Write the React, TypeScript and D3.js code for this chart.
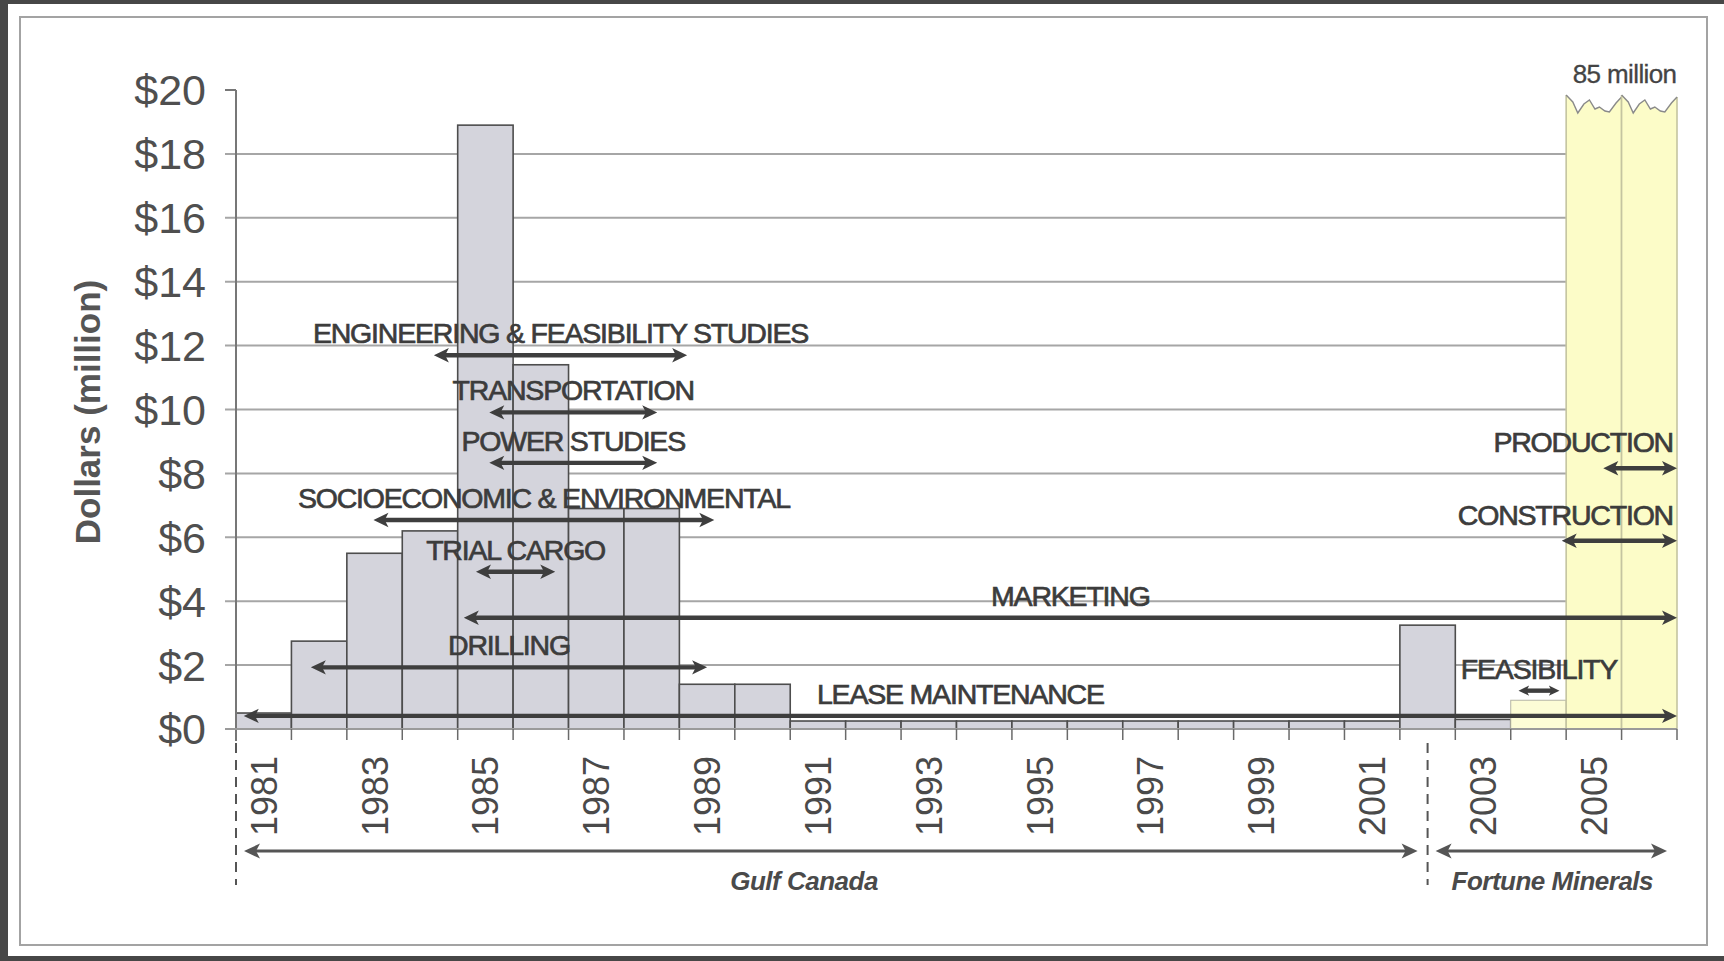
import { useEffect, useRef } from "react";
import * as d3 from "d3";

// spending per year, $ million (2005/2006 run off the chart at 85)
const YEARS = [
  1981, 1982, 1983, 1984, 1985, 1986, 1987, 1988, 1989, 1990, 1991, 1992, 1993,
  1994, 1995, 1996, 1997, 1998, 1999, 2000, 2001, 2002, 2003, 2004, 2005, 2006,
];
const SPENDING = [
  0.5, 2.75, 5.5, 6.2, 18.9, 11.4, 6.9, 6.9, 1.4, 1.4, 0.25, 0.25, 0.25, 0.25,
  0.25, 0.25, 0.25, 0.25, 0.25, 0.25, 0.25, 3.25, 0.3, 0.9, 85, 85,
];
const Y_TICKS = [0, 2, 4, 6, 8, 10, 12, 14, 16, 18, 20];
const YEAR_LABELS = [1981, 1983, 1985, 1987, 1989, 1991, 1993, 1995, 1997, 1999, 2001, 2003, 2005];

// activity arrows: label, start year, end year, $ level
const ACTIVITY_LABELS = [
  "ENGINEERING & FEASIBILITY STUDIES",
  "TRANSPORTATION",
  "POWER STUDIES",
  "SOCIOECONOMIC & ENVIRONMENTAL",
  "TRIAL CARGO",
  "MARKETING",
  "DRILLING",
  "LEASE MAINTENANCE",
  "FEASIBILITY",
  "CONSTRUCTION",
  "PRODUCTION",
];
const ACTIVITY_START = [1984.57, 1985.57, 1985.57, 1983.48, 1985.33, 1985.11, 1982.35, 1981.14, 2004.14, 2004.92, 2005.67];
const ACTIVITY_END = [1989.14, 1988.6, 1988.6, 1989.63, 1986.76, 2007, 1989.5, 2007, 2004.88, 2007, 2007];
const ACTIVITY_LEVEL = [11.7, 9.91, 8.33, 6.54, 4.92, 3.48, 1.93, 0.41, 1.2, 5.89, 8.16];
const RIGHT_ALIGNED = ["CONSTRUCTION", "PRODUCTION"];

// ownership periods
const OWNERS = ["Gulf Canada", "Fortune Minerals"];
const OWNER_START = [1981, 2002.5];
const OWNER_END = [2002.5, 2007];
const OWNER_LABEL_AT = [1991.25, 2004.75];

const FONT = "'Liberation Sans', Arial, Helvetica, sans-serif";

export default function App() {
  const ref = useRef<SVGSVGElement | null>(null);

  useEffect(() => {
    const W = 1724;
    const H = 961;
    const svg = d3.select(ref.current);
    svg.selectAll("*").remove();

    // frame
    svg.append("rect").attr("width", W).attr("height", H).attr("fill", "#474747");
    svg.append("rect").attr("x", 8).attr("y", 4).attr("width", W - 8).attr("height", 952).attr("fill", "#fff");
    svg
      .append("rect")
      .attr("x", 20)
      .attr("y", 17)
      .attr("width", 1687)
      .attr("height", 928)
      .attr("fill", "none")
      .attr("stroke", "#a3a3a3")
      .attr("stroke-width", 2);

    const left = 236;
    const right = 1677;
    const top = 90;
    const bottom = 729;

    const band = d3.scaleBand<number>().domain(YEARS).range([left, right]).padding(0);
    const t = d3.scaleLinear().domain([1981, 2007]).range([left, right]);
    const y = d3.scaleLinear().domain([0, 20]).range([bottom, top]);
    const yMax = y.domain()[1];

    const g = svg.append("g");

    /* gridlines */
    g.selectAll(".grid")
      .data(Y_TICKS.filter((d) => d > 0 && d < yMax))
      .enter()
      .append("line")
      .attr("x1", left - 11)
      .attr("x2", right)
      .attr("y1", (d) => y(d))
      .attr("y2", (d) => y(d))
      .attr("stroke", "#a6a6a6")
      .attr("stroke-width", 2);

    /* bars */
    const bars = YEARS.map((yr, i) => ({ year: yr, value: SPENDING[i] }));
    const isFortune = (yr: number) => yr >= 2004;

    g.selectAll(".bar")
      .data(bars.filter((d) => d.value <= yMax))
      .enter()
      .append("rect")
      .attr("x", (d) => band(d.year)!)
      .attr("width", band.bandwidth())
      .attr("y", (d) => y(d.value))
      .attr("height", (d) => bottom - y(d.value))
      .attr("fill", (d) => (isFortune(d.year) ? "#fcfcd6" : "#d4d4dc"))
      .attr("stroke", (d) => (isFortune(d.year) ? "#b5b5a5" : "#4d4d4d"))
      .attr("stroke-width", (d) => (isFortune(d.year) ? 1 : 1.6));

    // broken (off-scale) bars with a torn top
    const tearX = [0, 0.12, 0.21, 0.32, 0.42, 0.52, 0.6, 0.7, 0.78, 0.9, 1];
    const tearY = [5, 12, 23, 14, 10, 19, 17, 21, 22, 13, 7];
    const broken = bars.filter((d) => d.value > yMax);
    broken.forEach((d) => {
      const x0 = band(d.year)!;
      const w = band.bandwidth();
      const pts = tearX.map((f, k) => [x0 + f * w, y(yMax) + tearY[k]] as [number, number]);
      const line = d3.line();
      const outline = [[x0, bottom] as [number, number], ...pts, [x0 + w, bottom] as [number, number]];
      g.append("path").attr("d", line(outline) + "Z").attr("fill", "#fcfcc8");
      g.append("line")
        .attr("x1", x0)
        .attr("x2", x0)
        .attr("y1", pts[0][1])
        .attr("y2", bottom)
        .attr("stroke", "#c4c4a0")
        .attr("stroke-width", 1.6);
      g.append("line")
        .attr("x1", x0 + w)
        .attr("x2", x0 + w)
        .attr("y1", pts[pts.length - 1][1])
        .attr("y2", bottom)
        .attr("stroke", "#c4c4a0")
        .attr("stroke-width", 1.6);
      g.append("path")
        .attr("d", line(pts))
        .attr("fill", "none")
        .attr("stroke", "#8a8a8a")
        .attr("stroke-width", 1.4);
    });

    svg
      .append("text")
      .attr("x", t(2006) + 3)
      .attr("y", 83)
      .attr("text-anchor", "middle")
      .attr("font-family", FONT)
      .attr("font-size", 26)
      .attr("letter-spacing", -0.6)
      .attr("fill", "#444")
      .attr("stroke", "#444")
      .attr("stroke-width", 0.3)
      .text("85 million");

    /* y axis */
    g.append("line")
      .attr("x1", left)
      .attr("x2", left)
      .attr("y1", y(yMax))
      .attr("y2", bottom + 12)
      .attr("stroke", "#777")
      .attr("stroke-width", 2);
    g.append("line")
      .attr("x1", left - 11)
      .attr("x2", left)
      .attr("y1", y(yMax))
      .attr("y2", y(yMax))
      .attr("stroke", "#777")
      .attr("stroke-width", 2);
    g.selectAll(".ylab")
      .data(Y_TICKS)
      .enter()
      .append("text")
      .attr("x", 206)
      .attr("y", (d) => y(d))
      .attr("dy", "0.36em")
      .attr("text-anchor", "end")
      .attr("font-family", FONT)
      .attr("font-size", 43)
      .attr("fill", "#4f4f4f")
      .text((d) => `$${d}`);

    svg
      .append("text")
      .attr("transform", `translate(100, 412) rotate(-90)`)
      .attr("text-anchor", "middle")
      .attr("font-family", FONT)
      .attr("font-weight", "bold")
      .attr("font-size", 35)
      .attr("fill", "#555")
      .text("Dollars (million)");

    /* x axis */
    g.append("line")
      .attr("x1", left - 11)
      .attr("x2", right)
      .attr("y1", bottom)
      .attr("y2", bottom)
      .attr("stroke", "#9a9a9a")
      .attr("stroke-width", 2);
    g.selectAll(".xtick")
      .data(YEARS.slice(1).concat([2007]))
      .enter()
      .append("line")
      .attr("x1", (d) => t(d))
      .attr("x2", (d) => t(d))
      .attr("y1", bottom)
      .attr("y2", bottom + 11)
      .attr("stroke", "#6a6a6a")
      .attr("stroke-width", 1.5);
    g.selectAll(".xlab")
      .data(YEAR_LABELS)
      .enter()
      .append("text")
      .attr(
        "transform",
        (d) => `translate(${band(d)! + band.bandwidth() / 2}, ${bottom + 27}) rotate(-90)`
      )
      .attr("dy", "0.36em")
      .attr("text-anchor", "end")
      .attr("font-family", FONT)
      .attr("font-size", 36)
      .attr("fill", "#4a4a4a")
      .text((d) => d);

    /* arrows */
    const arrow = (
      x1: number,
      x2: number,
      yy: number,
      color: string,
      width: number,
      head: number,
      half: number
    ) => {
      g.append("line")
        .attr("x1", x1 + head * 0.6)
        .attr("x2", x2 - head * 0.6)
        .attr("y1", yy)
        .attr("y2", yy)
        .attr("stroke", color)
        .attr("stroke-width", width);
      const p = d3.path();
      p.moveTo(x1, yy);
      p.lineTo(x1 + head, yy - half);
      p.lineTo(x1 + head * 0.75, yy);
      p.lineTo(x1 + head, yy + half);
      p.closePath();
      p.moveTo(x2, yy);
      p.lineTo(x2 - head, yy - half);
      p.lineTo(x2 - head * 0.75, yy);
      p.lineTo(x2 - head, yy + half);
      p.closePath();
      g.append("path").attr("d", p.toString()).attr("fill", color);
    };

    ACTIVITY_LABELS.forEach((label, i) => {
      const x1 = t(ACTIVITY_START[i]);
      const x2 = t(ACTIVITY_END[i]);
      const yy = y(ACTIVITY_LEVEL[i]);
      const head = Math.min(15, (x2 - x1) * 0.26);
      arrow(x1, x2, yy, "#3e3e3e", 4.4, head, head * 0.48);
      const right = RIGHT_ALIGNED.includes(label);
      g.append("text")
        .attr("x", right ? x2 - 4 : (x1 + x2) / 2)
        .attr("y", yy - (right ? 16 : 12))
        .attr("text-anchor", right ? "end" : "middle")
        .attr("font-family", FONT)
        .attr("font-size", 28.5)
        .attr("letter-spacing", -1.2)
        .attr("fill", "#3c3c3c")
        .attr("stroke", "#3c3c3c")
        .attr("stroke-width", 0.7)
        .text(label);
    });

    /* ownership periods */
    const dividers = [OWNER_START[0], OWNER_END[0]];
    dividers.forEach((d) => {
      g.append("line")
        .attr("x1", t(d))
        .attr("x2", t(d))
        .attr("y1", bottom + 14)
        .attr("y2", 885)
        .attr("stroke", "#555")
        .attr("stroke-width", 2)
        .attr("stroke-dasharray", "10,7");
    });
    OWNERS.forEach((name, i) => {
      arrow(t(OWNER_START[i]) + 8, t(OWNER_END[i]) - 10, 851, "#555", 3, 16, 7.5);
      g.append("text")
        .attr("x", t(OWNER_LABEL_AT[i]))
        .attr("y", 890)
        .attr("text-anchor", "middle")
        .attr("font-family", FONT)
        .attr("font-style", "italic")
        .attr("font-weight", "bold")
        .attr("font-size", 26)
        .attr("letter-spacing", -0.5)
        .attr("fill", "#4a4a4a")
        .text(name);
    });
  }, []);

  return (
    <svg
      ref={ref}
      width={1724}
      height={961}
      style={{ position: "absolute", left: 0, top: 0, display: "block" }}
    />
  );
}
